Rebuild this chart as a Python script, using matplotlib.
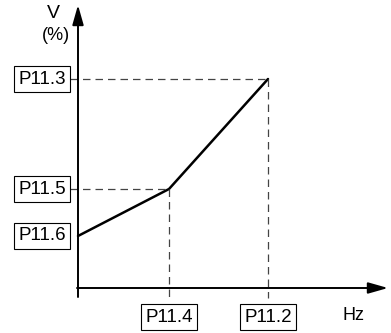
import matplotlib.pyplot as plt

plt.rcParams['font.family'] = ['Liberation Sans', 'DejaVu Sans']

# frequency (x) and voltage (y) break points, arbitrary picture units
f_points = [0, 91, 190]
v_points = [52, 99, 209]

v_labels = ['P11.6', 'P11.5', 'P11.3']
f_labels = ['P11.4', 'P11.2']

fig = plt.figure(figsize=(3.91, 3.33), dpi=100)
ax = fig.add_axes([0, 0, 1, 1])
ax.set_xlim(-78, 313)
ax.set_ylim(-45, 288)
ax.axis('off')

# axes with arrows
arrow = dict(arrowstyle='-|>,head_length=0.6,head_width=0.17', mutation_scale=20,
             lw=1.4, color='black', shrinkA=0, shrinkB=0)
ax.annotate('', xy=(0, 283), xytext=(0, -9), arrowprops=arrow)
ax.annotate('', xy=(310, 0), xytext=(-1, 0), arrowprops=arrow)

# V/f curve
ax.plot(f_points, v_points, color='black', lw=1.8, solid_capstyle='round')

# dashed helper lines
for f, v in zip(f_points[1:], v_points[1:]):
    ax.plot([-8, f], [v, v], color='#444444', lw=0.9, dashes=(6, 4))
    ax.plot([f, f], [v, -10], color='#444444', lw=0.9, dashes=(6, 4))

box = dict(boxstyle='square,pad=0.22', fc='white', ec='black', lw=0.8)
for v, lab in zip(v_points, v_labels):
    ax.text(-36, v, lab, ha='center', va='center', fontsize=13.5, bbox=box)
for f, lab in zip(f_points[1:], f_labels):
    ax.text(f, -29, lab, ha='center', va='center', fontsize=13.5, bbox=box)

ax.text(275, -28, 'Hz', ha='center', va='center', fontsize=13)
ax.text(-25, 275, 'V', ha='center', va='center', fontsize=14)
ax.text(-22, 252, '(%)', ha='center', va='center', fontsize=13)

fig.savefig('out.png', dpi=100)
